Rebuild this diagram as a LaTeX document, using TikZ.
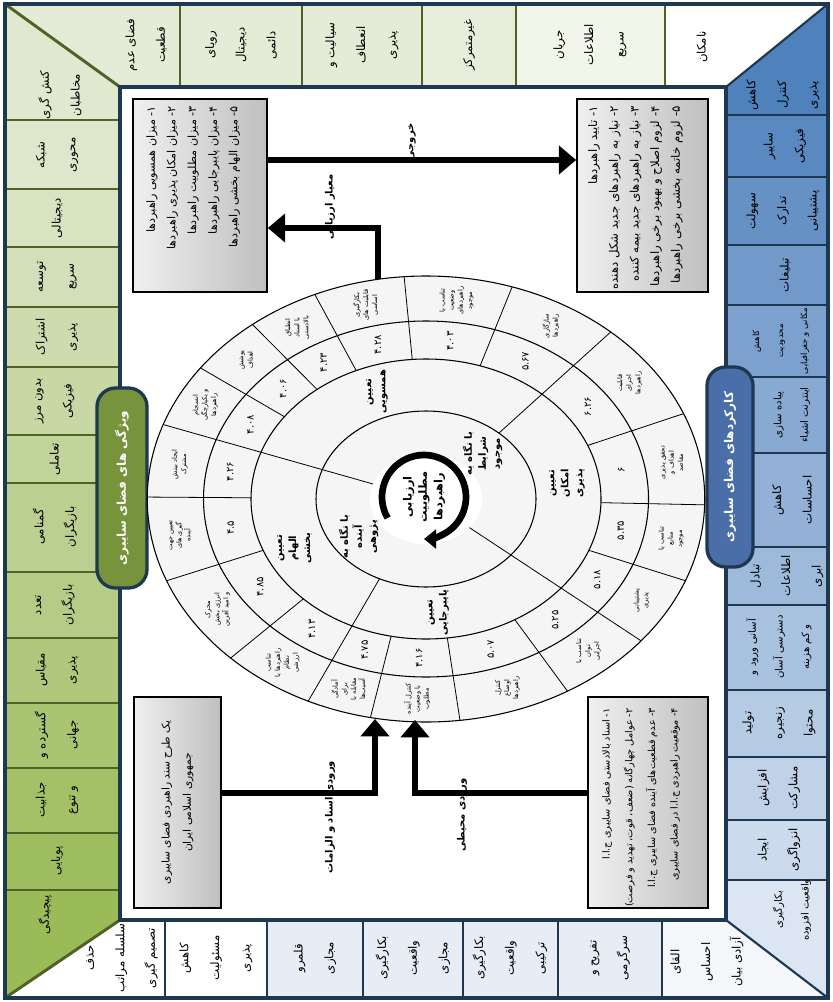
\documentclass[tikz,border=0pt]{standalone}
\usepackage{fontspec}
\TeXXeTstate=1
\newfontfamily\fa[Script=Arabic]{DejaVu Sans}
\newcommand\RL[1]{\beginR #1\endR}
\usetikzlibrary{arrows.meta}
\definecolor{navy}{RGB}{31,56,82}
\definecolor{olive}{RGB}{79,98,40}
\definecolor{gA}{RGB}{228,235,214}
\definecolor{gB}{RGB}{242,245,234}
\definecolor{gDark}{RGB}{155,187,89}
\definecolor{bDark}{RGB}{79,129,189}
\definecolor{bLight}{RGB}{220,230,242}
\definecolor{rowB}{RGB}{232,237,245}
\definecolor{pillG}{RGB}{119,147,60}
\definecolor{pillB}{RGB}{74,110,168}
\tikzset{
  celltxt/.style={font=\fa\fontsize{8.8}{23}\selectfont, rotate=90, align=center, inner sep=0pt},
  smallcell/.style={font=\fa\fontsize{7.6}{20}\selectfont},
  tinycell/.style={font=\fa\fontsize{6.4}{18}\selectfont},
  boxtxt/.style={font=\fa\fontsize{8.4}{15.5}\selectfont, rotate=90, align=right, inner sep=0pt},
  wtxt/.style={font=\fa\fontsize{5}{6.8}\selectfont, rotate=90, align=center, inner sep=0pt},
  wnum/.style={font=\fa\fontsize{7.5}{8}\selectfont, rotate=90, inner sep=0pt},
  wcat/.style={font=\fa\bfseries\fontsize{7.5}{10.5}\selectfont, rotate=90, align=center, inner sep=0pt},
  graybox/.style={draw=black, line width=1.2pt, left color=gray!12, right color=gray!50},
  conn/.style={line width=5pt},
  arr/.style={-{Triangle[length=13pt,width=21pt]}},
  pill/.style={rounded corners=14pt, draw=navy, line width=2.5pt},
  albl/.style={font=\fa\bfseries\fontsize{7.5}{9}\selectfont, rotate=90, inner sep=0pt},
}
\begin{document}
\begin{tikzpicture}[x=0.75pt,y=-0.75pt]
\useasboundingbox (0,0) rectangle (832,1002);
\fill[white] (0,0) rectangle (832,1002);
% ---------- top row
\fill[gA] (5,4) -- (180,4) -- (180,87) -- (120,87) -- cycle;
\fill[gA] (180,4) rectangle (422,87);
\fill[gA!80!gB] (422,4) rectangle (516,87);
\fill[gB] (516,4) rectangle (665,87);
\fill[white] (665,4) -- (828,4) -- (726,87) -- (665,87) -- cycle;
% ---------- left column
\foreach \ya/\yb/\c in {120/189/8,189/247/16,247/307/24,307/367/32,367/435/40,435/483/48,483/572/56,572/638/64,638/703/72,703/768/80,768/833/88,833/890/96}
  \fill[gDark!\c!gA] (5,\ya) rectangle (120,\yb);
\fill[gA!95!gDark] (5,4) -- (120,87) -- (120,120) -- (5,120) -- cycle;
\fill[gDark] (5,890) -- (120,890) -- (120,920) -- (5,998) -- cycle;
% ---------- right column
\foreach \ya/\yb/\c in {115/177/92,177/245/84,245/305/76,305/377/68,377/453/60,453/547/52,547/605/44,605/690/36,690/757/28,757/820/20,820/880/12}
  \fill[bDark!\c!bLight] (726,\ya) rectangle (828,\yb);
\fill[bDark] (828,4) -- (828,115) -- (726,115) -- (726,87) -- cycle;
\fill[bLight] (726,880) -- (828,880) -- (828,998) -- (726,920) -- cycle;
% ---------- bottom row
\fill[white] (5,998) -- (120,920) -- (165,920) -- (165,998) -- cycle;
\fill[white] (165,920) rectangle (267,998);
\fill[rowB] (267,920) rectangle (662,998);
\fill[rowB!50!white] (662,920) -- (726,920) -- (828,998) -- (662,998) -- cycle;
% ---------- separators
\begin{scope}[olive, line width=2.2pt]
\foreach \x in {180,302,422,516,665} \draw (\x,4) -- (\x,87);
\foreach \y in {120,189,247,307,367,435,483,572,638,703,768,833,890} \draw (5,\y) -- (120,\y);
\draw (5,4) -- (120,87);
\draw (5,998) -- (120,920);
\end{scope}
\begin{scope}[navy, line width=1.6pt]
\foreach \y in {115,177,245,305,377,453,547,605,690,757,820,880} \draw (726,\y) -- (828,\y);
\foreach \x in {165,267,363,463,558,662} \draw (\x,920) -- (\x,998);
\draw (828,4) -- (726,87);
\draw (828,998) -- (726,920);
\end{scope}
\draw[navy, line width=3.5pt] (5,4) rectangle (828,998);
\fill[white] (120,87) rectangle (726,920);
\draw[navy, line width=3.5pt] (120,87) rectangle (726,920);
% ---------- cell texts
% top row
\node[celltxt] (t1) at (146,45) {\RL{فضای عدم}\\\RL{قطعیت}};
\node[celltxt] (t2) at (241,45) {\RL{رویای}\\\RL{دیجیتال}\\\RL{دائمی}};
\node[celltxt] (t3) at (362,45) {\RL{سیالیت و}\\\RL{انعطاف}\\\RL{پذیری}};
\node[celltxt] (t4) at (469,45) {\RL{غیرمتمرکز}};
\node[celltxt] (t5) at (590,45) {\RL{جریان}\\\RL{اطلاعات}\\\RL{سریع}};
\node[celltxt] (t6) at (702,47) {\RL{نامکان}};
% left column
\node[celltxt] (l1) at (60,95) {\RL{کنش گری}\\\RL{مخاطبان}};
\node[celltxt] (l2) at (57,155) {\RL{شبکه}\\\RL{محوری}};
\node[celltxt] (l3) at (57,218) {\RL{دیجیتالی}};
\node[celltxt] (l4) at (57,277) {\RL{توسعه}\\\RL{سریع}};
\node[celltxt] (l5) at (57,337) {\RL{اشتراک}\\\RL{پذیری}};
\node[celltxt] (l6) at (55,401) {\RL{بدون مرز}\\\RL{فیزیکی}};
\node[celltxt] (l7) at (55,459) {\RL{تعاملی}};
\node[celltxt] (l8) at (55,527) {\RL{گمنامی}\\\RL{بازیگران}};
\node[celltxt] (l9) at (55,605) {\RL{تعدد}\\\RL{بازیگران}};
\node[celltxt] (l10) at (57,670) {\RL{مقیاس}\\\RL{پذیری}};
\node[celltxt] (l11) at (57,735) {\RL{گسترده و}\\\RL{جهانی}};
\node[celltxt] (l12) at (57,800) {\RL{جذابیت}\\\RL{و تنوع}};
\node[celltxt] (l13) at (57,861) {\RL{پویایی}};
\node[celltxt] (l14) at (45,915) {\RL{پیچیدگی}};
% right column
\node[celltxt] (r1) at (783,95) {\RL{کاهش}\\\RL{کنترل}\\\RL{پذیری}};
\node[celltxt] (r2) at (785,146) {\RL{سایبر}\\\RL{فیزیکی}};
\node[celltxt] (r3) at (783,211) {\RL{سهولت}\\\RL{تدارک}\\\RL{پشتیبانی}};
\node[celltxt] (r4) at (785,275) {\RL{تبلیغات}};
\node[celltxt, tinycell] (r5) at (781,341) {\RL{کاهش}\\\RL{محدودیت}\\\RL{مکانی و جغرافیایی}};
\node[celltxt, smallcell] (r6) at (792,415) {\RL{پیاده سازی}\\\RL{اینترنت اشیاء}};
\node[celltxt] (r7) at (792,500) {\RL{کاهش}\\\RL{احساسات}};
\node[celltxt] (r8) at (787,576) {\RL{تبادل}\\\RL{اطلاعات}\\\RL{ابری}};
\node[celltxt, smallcell] (r9) at (779,647) {\RL{آسانی ورود و}\\\RL{دسترسی آسان}\\\RL{و کم هزینه}};
\node[celltxt] (r10) at (779,723) {\RL{تولید}\\\RL{زنجیره}\\\RL{محتوا}};
\node[celltxt] (r11) at (779,788) {\RL{افزایش}\\\RL{مشارکت}};
\node[celltxt] (r12) at (779,850) {\RL{ایجاد}\\\RL{انزواگری}};
\node[celltxt, smallcell] (r13) at (792,910) {\RL{بکارگیری}\\\RL{واقعیت افزوده}};
% bottom row
\node[celltxt] (b1) at (122,958) {\RL{حذف}\\\RL{سلسله مراتب}\\\RL{تصمیم گیری}};
\node[celltxt] (b2) at (216,958) {\RL{کاهش}\\\RL{مسئولیت}\\\RL{پذیری}};
\node[celltxt] (b3) at (315,958) {\RL{قلمرو}\\\RL{مجازی}};
\node[celltxt] (b4) at (413,958) {\RL{بکارگیری}\\\RL{واقعیت}\\\RL{مجازی}};
\node[celltxt] (b5) at (510,958) {\RL{بکارگیری}\\\RL{واقعیت}\\\RL{ترکیبی}};
\node[celltxt] (b6) at (610,958) {\RL{تفریح و}\\\RL{سرگرمی}};
\node[celltxt] (b7) at (707,962) {\RL{القای}\\\RL{احساس}\\\RL{آزادی بیان}};
% ---------- pills
\node[pill, fill=pillG, minimum width=200pt*0.75, minimum height=50*0.75pt, rotate=90, text=white, font=\fa\bfseries\fontsize{9}{10}\selectfont] (pg) at (122,488) {\RL{ویژگی های فضای سایبری}};
\node[pill, fill=pillB, minimum width=200pt*0.75, minimum height=46*0.75pt, rotate=90, text=white, font=\fa\bfseries\fontsize{9}{10}\selectfont] (pb) at (730,467) {\RL{کارکردهای فضای سایبری}};
% ---------- boxes
\node[graybox, minimum width=134*0.75pt, minimum height=193*0.75pt, inner sep=0pt] (bx1) at (200,195.5) {};
\node[boxtxt, anchor=north east] (bx1t) at (146,106) {\RL{۱- میزان همسویی راهبردها}\\\RL{۲- میزان امکان پذیری راهبردها}\\\RL{۳- میزان مطلوبیت راهبردها}\\\RL{۴- میزان پایبرجایی راهبردها}\\\RL{۵- میزان الهام بخشی راهبردها}};
\node[graybox, minimum width=131*0.75pt, minimum height=193*0.75pt, inner sep=0pt] (bx2) at (642.5,195.5) {};
\node[boxtxt, anchor=north east, font=\fa\fontsize{8.8}{15.5}\selectfont] (bx2t) at (588,106) {\RL{۱- تایید راهبردها}\\\RL{۲- نیاز به راهبردهای جدید شکل دهنده}\\\RL{۳- نیاز به راهبردهای جدید بیمه کننده}\\\RL{۴- لزوم اصلاح و بهبود برخی راهبردها}\\\RL{۵- لزوم خاتمه بخشی برخی راهبردها}};
\node[graybox, minimum width=87*0.75pt, minimum height=211*0.75pt, inner sep=0pt] (bx3) at (177.5,802.5) {};
\node[celltxt, font=\fa\fontsize{8}{16}\selectfont] (bx3t) at (177.5,802.5) {\RL{یک طرح سند راهبردی فضای سایبری}\\\RL{جمهوری اسلامی ایران}};
\node[graybox, minimum width=120*0.75pt, minimum height=211*0.75pt, inner sep=0pt] (bx4) at (648,802.5) {};
\node[boxtxt, anchor=north east, font=\fa\fontsize{7.3}{17}\selectfont] (bx4t) at (602,708) {\RL{۱- اسناد بالادستی فضای سایبری ج.ا.ا}\\\RL{۲- عوامل چهارگانه (ضعف، قوت، تهدید و فرصت)}\\\RL{۳- عدم قطعیت‌های آینده فضای سایبری ج.ا.ا}\\\RL{۴- موقعیت راهبردی ج.ا.ا در فضای سایبری}};
% ---------- wheel
\begin{scope}[shift={(426,499)}, xscale=1.25, yscale=-1]
\fill[gray!8] (0,0) circle (223);
\foreach \r in {223,178,140,88} \draw[line width=0.8pt] (0,0) circle (\r);
\fill[white] (0,0) circle (45);
\foreach \a in {113.5,94.5,72,48.5,22.5,-1.5,-21.5,-39.5,-59.5,-83,-101.5,-115,-134.5,-158.5,-180.5,-199.5,-216,-231.5}
  \draw[line width=0.6pt] (\a:140) -- (\a:223);
\foreach \a in {48.5,-39.5,-115,-199.5} \draw[line width=0.6pt] (\a:88) -- (\a:140);
\foreach \a in {-39.5,-199.5} \draw[line width=0.6pt] (\a:45) -- (\a:88);
\end{scope}
\coordinate (wT) at (378,279);
\coordinate (wB1) at (375,719);
\coordinate (wB2) at (415,720);
% wheel texts
\foreach \ang/\num/\lab in {
 104/۴.۲۸/{\RL{بکارگیری}\\\RL{قابلیت های}\\\RL{اساسی}},
 83/۴.۰۳/{\RL{تناسب با}\\\RL{وضعیت}\\\RL{راهبردهای}\\\RL{موجود}},
 60/۵.۶۷/{\RL{سازگاری}\\\RL{راهبردها}},
 35.5/۶.۲۶/{\RL{قابلیت}\\\RL{اجرای}\\\RL{راهبردها}},
 10.5/۶/{\RL{تحقق پذیری}\\\RL{اهداف و}\\\RL{مقاصد}},
 -11.5/۵.۳۵/{\RL{تناسب با}\\\RL{منابع}\\\RL{موجود}},
 -30.5/۵.۱۸/{\RL{پشتیبانی}\\\RL{پذیری}},
 -49.5/۵.۲۵/{\RL{تناسب با}\\\RL{توان}\\\RL{اجرایی}},
 -71/۵.۰۷/{\RL{کنترل}\\\RL{اوضاع}\\\RL{راهبردها}},
 -92/۴.۱۶/{\RL{کنترل آینده}\\\RL{با وضعیت}\\\RL{مطلوب}},
 -108/۴.۷۵/{\RL{آمادگی}\\\RL{برای}\\\RL{مقابله با}\\\RL{آسیب‌ها}},
 -125/۴.۱۳/{\RL{تناسب}\\\RL{راهبردها با}\\\RL{نظام}\\\RL{ارزشی}},
 -146.5/۴.۸۵/{\RL{محرک}\\\RL{انرژی بخش}\\\RL{و امید آفرین}},
 -169.5/۴.۵/{\RL{تعیین جهت}\\\RL{گیری های}\\\RL{آینده}},
 170/۴.۲۶/{\RL{ایجاد بینش}\\\RL{مشترک}},
 152/۴.۰۸/{\RL{انسجام}\\\RL{و یکپارچگی}\\\RL{راهبردها}},
 136/۴.۰۶/{\RL{پوشش}\\\RL{اهداف}},
 121/۴.۲۳/{\RL{انطباق}\\\RL{با اسناد}\\\RL{بالادستی}}}
{
  \node[wtxt] at ({426+1.25*200*cos(\ang)},{499-200*sin(\ang)}) {\lab};
  \node[wnum] at ({426+1.25*159*cos(\ang)},{499-159*sin(\ang)}) {\RL{\num}};
}
\node[wcat] (c1) at ({426+1.25*114*cos(110)},{499-114*sin(110)}) {\RL{تعیین}\\\RL{همسویی}};
\node[wcat] (c2) at ({426+1.25*114*cos(8)},{499-114*sin(8)}) {\RL{تعیین}\\\RL{امکان}\\\RL{پذیری}};
\node[wcat] (c3) at ({426+1.25*114*cos(-85)},{499-114*sin(-85)}) {\RL{تعیین}\\\RL{پایبرجایی}};
\node[wcat] (c4) at ({426+1.25*116*cos(-155)},{499-116*sin(-155)}) {\RL{تعیین}\\\RL{الهام}\\\RL{بخشی}};
\node[wcat] (h1) at ({426+1.25*64*cos(45)},{499-64*sin(45)}) {\RL{با نگاه به}\\\RL{شرایط}\\\RL{موجود}};
\node[wcat] (h2) at ({426+1.25*66*cos(-145)},{499-66*sin(-145)}) {\RL{با نگاه به}\\\RL{آینده}\\\RL{پژوهی}};
% center
\node[font=\fa\bfseries\fontsize{8.5}{11.5}\selectfont, rotate=90, align=center] (ctr) at (424,497) {\RL{ارزیابی}\\\RL{مطلوبیت}\\\RL{راهبردها}};
\draw[line width=5pt, -{Triangle[length=9pt,width=14pt]}] (424,497) ++(150:42) arc[start angle=150, end angle=450, radius=42];
% ---------- connectors
\coordinate (k1) at (400,160);
\draw[conn, arr] (bx1.east |- k1) -- (bx2.west |- k1);
\coordinate (k2) at (378,228);
\draw[conn, arr] (wT) -- (k2) -- (bx1.east |- k2);
\coordinate (k3) at (375,793);
\draw[conn, arr] (bx3.east |- k3) -- (k3) -- (wB1);
\coordinate (k4) at (415,793);
\draw[conn, arr] (bx4.west |- k4) -- (k4) -- (wB2);
\node[albl] (a1) at (412,142) {\RL{خروجی}};
\node[albl] (a2) at (330,207) {\RL{معیار ارزیابی}};
\node[albl] (a3) at (330,817) {\RL{ورودی اسناد و الزامات}};
\node[albl] (a4) at (462,815) {\RL{ورودی محیطی}};
\end{tikzpicture}
\end{document}
